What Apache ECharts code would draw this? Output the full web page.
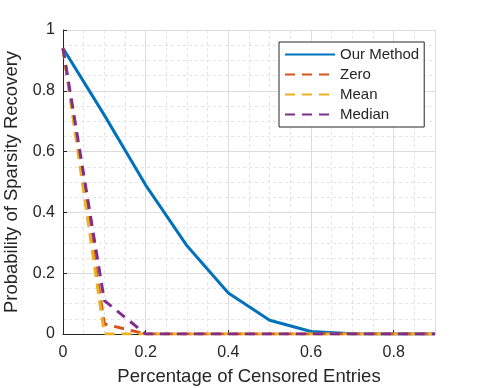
<!DOCTYPE html>
<html>
<head>
<meta charset="utf-8">
<script src="https://cdn.jsdelivr.net/npm/echarts@6/dist/echarts.min.js"></script>
<style>
html, body { margin: 0; padding: 0; background: #fff; }
#chart { width: 482px; height: 388px; }
</style>
</head>
<body>
<div id="chart"></div>
<script>
// censored fraction
const censored = [0, 0.1, 0.2, 0.3, 0.4, 0.5, 0.6, 0.7, 0.8, 0.9];
const ourMethod = [0.94, 0.72, 0.49, 0.29, 0.135, 0.045, 0.008, 0.001, 0, 0];
const zeroFill = [0.94, 0.033, 0, 0, 0, 0, 0, 0, 0, 0];
const meanFill = [0.94, 0, 0, 0, 0, 0, 0, 0, 0, 0];
const medianFill = [0.94, 0.11, 0, 0, 0, 0, 0, 0, 0, 0];

const pairs = arr => censored.map((x, i) => [x, arr[i]]);

const font = 'Liberation Sans, Arial, sans-serif';
const chart = echarts.init(document.getElementById('chart'));

function mkSeries(name, arr, color, dashed) {
  return {
    name: name,
    type: 'line',
    data: pairs(arr),
    symbol: 'none',
    animation: false,
    itemStyle: { color: color },
    lineStyle: { color: color, width: 3, type: dashed ? [10, 7] : 'solid' }
  };
}

chart.setOption({
  backgroundColor: '#fff',
  grid: { left: 63, right: 47, top: 30, bottom: 54, outerBoundsMode: 'none' },
  legend: {
    left: 279, top: 42,
    orient: 'vertical',
    itemWidth: 50, itemHeight: 3, itemGap: 5,
    padding: [5, 5, 5, 5],
    borderColor: '#262626', borderWidth: 1,
    backgroundColor: '#fff',
    itemStyle: { opacity: 0 },
    textStyle: { fontFamily: font, fontSize: 15, color: '#262626' },
    data: ['Our Method', 'Zero', 'Mean', 'Median']
  },
  xAxis: {
    type: 'value', min: 0, max: 0.9, interval: 0.2,
    name: 'Percentage of Censored Entries',
    nameLocation: 'middle', nameGap: 33,
    nameTextStyle: { fontFamily: font, fontSize: 18.5, color: '#262626' },
    axisLine: { onZero: false, lineStyle: { color: '#262626', width: 1 } },
    axisTick: { inside: true, length: 4, lineStyle: { color: '#262626' } },
    axisLabel: { fontFamily: font, fontSize: 16, color: '#262626', showMaxLabel: false, margin: 11 },
    splitLine: { show: true, lineStyle: { color: '#dcdcdc' } },
    minorTick: { show: false, splitNumber: 4 },
    minorSplitLine: { show: true, lineStyle: { color: '#e4e4e4', type: [3, 3] } }
  },
  yAxis: {
    type: 'value', min: 0, max: 1, interval: 0.2,
    name: 'Probability of Sparsity Recovery',
    nameLocation: 'middle', nameGap: 37,
    nameTextStyle: { fontFamily: font, fontSize: 18.5, color: '#262626' },
    axisLine: { show: true, lineStyle: { color: '#262626', width: 1 } },
    axisTick: { show: true, inside: true, length: 4, lineStyle: { color: '#262626' } },
    axisLabel: { fontFamily: font, fontSize: 16, color: '#262626', margin: 8 },
    splitLine: { show: true, lineStyle: { color: '#dcdcdc' } },
    minorTick: { show: false, splitNumber: 4 },
    minorSplitLine: { show: true, lineStyle: { color: '#e4e4e4', type: [3, 3] } }
  },
  series: [
    mkSeries('Our Method', ourMethod, '#0072BD', false),
    mkSeries('Zero', zeroFill, '#D95319', true),
    mkSeries('Mean', meanFill, '#EDB120', true),
    mkSeries('Median', medianFill, '#7E2F8E', true)
  ]
});
</script>
</body>
</html>
